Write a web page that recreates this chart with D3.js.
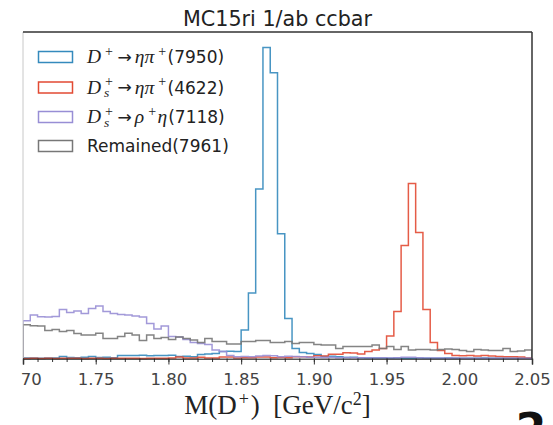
<!DOCTYPE html>
<html>
<head>
<meta charset="utf-8">
<script src="https://cdn.jsdelivr.net/npm/d3@7/dist/d3.min.js"></script>
<style>
  html, body { margin: 0; padding: 0; background: #fff; }
  svg { display: block; }
</style>
</head>
<body>
<svg id="chart" width="553" height="425"></svg>
<script>
// Histogram binning: 70 bins of 5 MeV from 1.70 to 2.05 GeV
const binStart = 1.70;
const binWidth = 0.005;

const majorTicks = [1.70, 1.75, 1.80, 1.85, 1.90, 1.95, 2.00, 2.05];
const majorTickLabels = ["1.70", "1.75", "1.80", "1.85", "1.90", "1.95", "2.00", "2.05"];

// Entries per bin, D+ -> eta pi+
const dplusEtaPi = [
  3, 4, 2, 3, 4, 14, 7, 6, 8, 14,
  7, 8, 6, 21, 21, 20, 22, 19, 21, 20,
  22, 14, 15, 13, 28, 31, 35, 48, 50, 49,
  198, 455, 1178, 2162, 1987, 868, 278, 70, 42, 35,
  28, 14, 15, 13, 7, 8, 6, 4, 3, 4,
  2, 3, 2, 2, 3, 1, 2, 2, 3, 2,
  2, 1, 2, 3, 2, 2, 1, 2, 2, 1
];

// Entries per bin, Ds+ -> eta pi+
const dsEtaPi = [
  0, 1, 0, 1, 0, 1, 2, 1, 0, 1,
  1, 0, 2, 1, 2, 1, 0, 1, 2, 1,
  3, 10, 4, 3, 9, 4, 3, 10, 11, 4,
  5, 6, 10, 11, 6, 7, 6, 12, 13, 11,
  19, 18, 29, 30, 40, 39, 31, 49, 59, 70,
  156, 327, 785, 1216, 876, 341, 111, 56, 35, 20,
  19, 21, 18, 20, 17, 14, 13, 13, 11, 3
];

// Entries per bin, Ds+ -> rho+ eta
const dsRhoEta = [
  263, 302, 291, 289, 292, 341, 320, 330, 313, 348,
  365, 327, 313, 306, 302, 295, 288, 243, 205, 226,
  153, 150, 132, 111, 104, 97, 59, 49, 21, 13,
  14, 12, 18, 21, 19, 13, 15, 14, 12, 9,
  8, 7, 8, 6, 7, 5, 6, 5, 4, 5,
  4, 6, 8, 9, 6, 4, 3, 3, 2, 3,
  2, 2, 1, 2, 1, 1, 2, 1, 1, 1
];

// Entries per bin, everything else
const remained = [
  235, 228, 226, 195, 202, 188, 195, 174, 163, 163,
  176, 139, 139, 153, 175, 163, 125, 163, 139, 146,
  132, 150, 139, 129, 111, 139, 118, 118, 101, 101,
  118, 118, 125, 125, 111, 111, 118, 104, 111, 111,
  97, 94, 94, 70, 83, 83, 83, 83, 94, 70,
  83, 63, 83, 59, 63, 63, 59, 63, 66, 63,
  56, 49, 62, 59, 56, 56, 70, 49, 52, 59
];

const seriesData = [dplusEtaPi, dsEtaPi, dsRhoEta, remained];
const seriesTotals = ["7950", "4622", "7118", "7961"];
const seriesColors = ["#348ABD", "#E24A33", "#988ED5", "#777777"];

const width = 553, height = 425;
const plot = { left: 23, right: 532, top: 32, bottom: 358.5 };

const svg = d3.select("#chart");

const nBins = dplusEtaPi.length;
const edges = d3.range(nBins + 1).map(i => binStart + i * binWidth);

const x = d3.scaleLinear()
  .domain([binStart, binStart + nBins * binWidth])
  .range([plot.left, plot.right]);

const yMax = d3.max(seriesData, s => d3.max(s)) * 1.05;
const y = d3.scaleLinear()
  .domain([0, yMax])
  .range([plot.bottom, plot.top]);

// Title
svg.append("text")
  .attr("x", (plot.left + plot.right) / 2)
  .attr("y", 25.5)
  .attr("text-anchor", "middle")
  .style("font-family", "'DejaVu Sans', sans-serif")
  .style("font-size", "20.7px")
  .style("fill", "#222")
  .text("MC15ri 1/ab ccbar");

// Step outlines
svg.append("defs").append("clipPath").attr("id", "plotClip")
  .append("rect")
  .attr("x", plot.left).attr("y", plot.top - 2)
  .attr("width", plot.right - plot.left).attr("height", plot.bottom - plot.top + 4);

const lines = svg.append("g").attr("clip-path", "url(#plotClip)");

function stepPoints(counts) {
  const pts = [[x(edges[0]), y(0)]];
  counts.forEach((c, i) => {
    pts.push([x(edges[i]), y(c)]);
    pts.push([x(edges[i + 1]), y(c)]);
  });
  pts.push([x(edges[counts.length]), y(0)]);
  return pts;
}

const line = d3.line();
seriesData.forEach((counts, k) => {
  lines.append("path")
    .attr("d", line(stepPoints(counts)))
    .attr("fill", "none")
    .attr("stroke", seriesColors[k])
    .attr("stroke-width", 1.5)
    .attr("stroke-opacity", 0.9)
    .attr("stroke-linejoin", "miter");
});

// Frame
svg.append("line")
  .attr("x1", plot.left).attr("x2", plot.left)
  .attr("y1", plot.top).attr("y2", plot.bottom)
  .attr("stroke", "#c8c8c8").attr("stroke-width", 1);
svg.append("line")
  .attr("x1", plot.left).attr("x2", plot.right)
  .attr("y1", plot.top).attr("y2", plot.top)
  .attr("stroke", "#333").attr("stroke-width", 1.5);
svg.append("line")
  .attr("x1", plot.right).attr("x2", plot.right)
  .attr("y1", plot.top).attr("y2", plot.bottom)
  .attr("stroke", "#333").attr("stroke-width", 1.5);

// X axis: minor ticks every 0.01, major every 0.05
const minorTicks = d3.range(0, 36).map(i => binStart + i * 0.01);
const minorAxis = d3.axisBottom(x).tickValues(minorTicks).tickSize(3.5).tickFormat("");
const gMinor = svg.append("g").attr("transform", `translate(0,${plot.bottom})`).call(minorAxis);
gMinor.select(".domain").remove();
gMinor.selectAll("line").attr("stroke", "#333");

svg.append("defs").append("clipPath").attr("id", "tickClip")
  .append("rect").attr("x", 20.5).attr("y", 0).attr("width", width).attr("height", height);

const majorAxis = d3.axisBottom(x)
  .tickValues(majorTicks)
  .tickSize(6)
  .tickPadding(9)
  .tickFormat((d, i) => majorTickLabels[i]);
const gMajor = svg.append("g")
  .attr("transform", `translate(0,${plot.bottom})`)
  .attr("clip-path", "url(#tickClip)")
  .call(majorAxis);
gMajor.select(".domain").attr("stroke", "#222").attr("stroke-width", 1.5);
gMajor.selectAll("line").attr("stroke", "#333");
gMajor.selectAll("text")
  .style("font-family", "'DejaVu Sans', sans-serif")
  .style("font-size", "16.5px")
  .style("fill", "#444");

// X axis label, M(D+) [GeV/c^2]
const xl = svg.append("text")
  .attr("x", (plot.left + plot.right) / 2)
  .attr("y", 414)
  .attr("text-anchor", "middle")
  .style("font-family", "'Liberation Serif', 'DejaVu Serif', serif")
  .style("font-size", "27px")
  .style("fill", "#222");
xl.append("tspan").text("M(D");
xl.append("tspan").attr("dx", 2).attr("dy", -9).style("font-size", "18px").text("+");
xl.append("tspan").attr("dx", 2).attr("dy", 9).text(")\u2002[GeV/c");
xl.append("tspan").attr("dy", -9).style("font-size", "18px").text("2");
xl.append("tspan").attr("dy", 9).text("]");

// Legend
const legendFont = 17;
const legendRows = [
  [{ t: "it", s: "D" }, { t: "sup", s: "+" }, { t: "arrow" }, { t: "it", s: "ηπ" }, { t: "sup", s: "+" }, { t: "sans", s: "(" + seriesTotals[0] + ")" }],
  [{ t: "it", s: "D" }, { t: "subsup", sub: "s", sup: "+" }, { t: "arrow" }, { t: "it", s: "ηπ" }, { t: "sup", s: "+" }, { t: "sans", s: "(" + seriesTotals[1] + ")" }],
  [{ t: "it", s: "D" }, { t: "subsup", sub: "s", sup: "+" }, { t: "arrow" }, { t: "it", s: "ρ" }, { t: "sup", s: "+" }, { t: "it", s: "η" }, { t: "sans", s: "(" + seriesTotals[2] + ")" }],
  [{ t: "sans", s: "Remained(" + seriesTotals[3] + ")" }]
];

const legend = svg.append("g");
const rowY = [57, 87.5, 117, 146];

function addPiece(g, cx, baseY, txt, family, size, style) {
  const t = g.append("text")
    .attr("x", cx).attr("y", baseY)
    .style("font-family", family)
    .style("font-size", size + "px")
    .style("font-style", style || "normal")
    .style("fill", "#222")
    .text(txt);
  return t.node().getComputedTextLength();
}

const serif = "'Liberation Serif', 'DejaVu Serif', serif";
const sans = "'DejaVu Sans', sans-serif";

legendRows.forEach((parts, r) => {
  const cy = rowY[r];
  legend.append("rect")
    .attr("x", 38.5).attr("y", cy - 5.5)
    .attr("width", 34).attr("height", 11)
    .attr("fill", "none")
    .attr("stroke", seriesColors[r])
    .attr("stroke-width", 1.5);
  const base = cy + 6;
  let cx = 87;
  parts.forEach(p => {
    if (p.t === "it") {
      cx += addPiece(legend, cx, base, p.s, serif, 19.5, "italic") + 1;
    } else if (p.t === "sup") {
      cx += 3;
      cx += addPiece(legend, cx, base - 7.5, p.s, serif, 14, "normal") + 1.5;
    } else if (p.t === "subsup") {
      cx += 2;
      const w1 = addPiece(legend, cx, base + 3.5, p.sub, serif, 13.5, "italic");
      const w2 = addPiece(legend, cx + 1, base - 7.5, p.sup, serif, 14, "normal");
      cx += Math.max(w1, w2 + 1) + 1.5;
    } else if (p.t === "arrow") {
      cx += 3;
      cx += addPiece(legend, cx, base - 0.5, "\u2192", sans, 17, "normal") + 3;
    } else if (p.t === "sans") {
      cx += addPiece(legend, cx, base, p.s, sans, legendFont, "normal");
    }
  });
});

// Corner mark
svg.append("text")
  .attr("x", 531)
  .attr("y", 445)
  .attr("text-anchor", "middle")
  .style("font-family", "'DejaVu Sans', sans-serif")
  .style("font-weight", "bold")
  .style("font-size", "44px")
  .style("fill", "#111")
  .text("2");
</script>
</body>
</html>
